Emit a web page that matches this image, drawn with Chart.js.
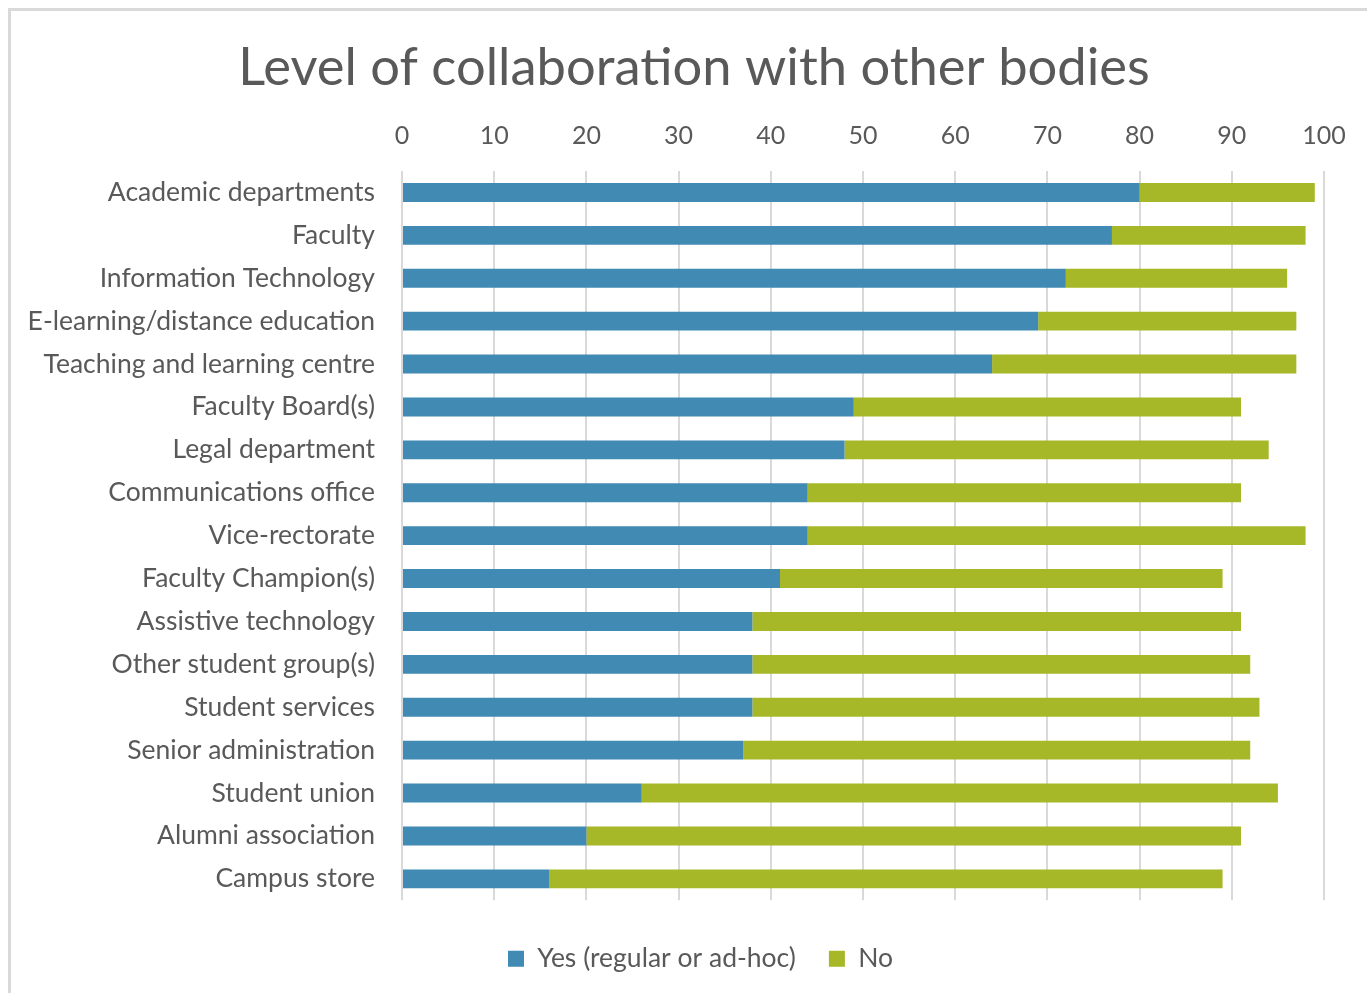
<!DOCTYPE html>
<html>
<head>
<meta charset="utf-8">
<script src="https://cdn.jsdelivr.net/npm/chart.js@4/dist/chart.umd.min.js"></script>
<style>
    html, body { margin: 0; padding: 0; background: #fff; overflow: hidden; }
    #frame {
        position: absolute; left: 8px; top: 8px; width: 1400px; height: 1000px;
        border-left: 3px solid #d9d9d9; border-top: 3px solid #d9d9d9;
    }
    #wrap { position: absolute; left: 0; top: 0; width: 1367px; height: 993px; }
</style>
</head>
<body>
<div id="frame"></div>
<div id="wrap"><canvas id="collabChart" width="1367" height="993"></canvas></div>
<script>
const categories = [
    'Academic departments', 'Faculty', 'Information Technology',
    'E-learning/distance education', 'Teaching and learning centre',
    'Faculty Board(s)', 'Legal department', 'Communications office',
    'Vice-rectorate', 'Faculty Champion(s)', 'Assistive technology',
    'Other student group(s)', 'Student services', 'Senior administration',
    'Student union', 'Alumni association', 'Campus store'
];
const yesValues = [80, 77, 72, 69, 64, 49, 48, 44, 44, 41, 38, 38, 38, 37, 26, 20, 16];
const noValues  = [19, 21, 24, 28, 33, 42, 46, 47, 54, 48, 53, 54, 55, 55, 69, 71, 73];
const xTicks = [0, 10, 20, 30, 40, 50, 60, 70, 80, 90, 100];

const textColor = '#595959';
const fontFamily = 'Lato, "Open Sans", sans-serif';

// the original centres title and legend a little right of the canvas middle
const nudgeBlocks = {
    id: 'nudgeBlocks',
    afterLayout(chart) {
        if (chart.titleBlock) chart.titleBlock.left += 44;
        if (chart.legend) chart.legend.left += 57;
    }
};

document.addEventListener('DOMContentLoaded', () => {
    const ctx = document.getElementById('collabChart').getContext('2d');

    new Chart(ctx, {
        type: 'bar',
        data: {
            labels: categories,
            datasets: [
                {
                    label: 'Yes (regular or ad-hoc)',
                    data: yesValues,
                    backgroundColor: '#418AB3',
                    barPercentage: 0.44,
                    categoryPercentage: 1
                },
                {
                    label: 'No',
                    data: noValues,
                    backgroundColor: '#A6B727',
                    barPercentage: 0.44,
                    categoryPercentage: 1
                }
            ]
        },
        options: {
            indexAxis: 'y',
            responsive: false,
            animation: false,
            layout: { padding: { top: 37, left: 20, right: 43, bottom: 11 } },
            scales: {
                x: {
                    position: 'top',
                    stacked: true,
                    min: 0,
                    max: 100,
                    afterBuildTicks: scale => {
                        scale.ticks = xTicks.map(v => ({ value: v }));
                    },
                    afterFit: scale => { scale.height = 61; },
                    grid: { color: '#d9d9d9', lineWidth: 2, drawTicks: false },
                    border: { display: false },
                    ticks: {
                        color: textColor,
                        font: { family: fontFamily, size: 25 },
                        padding: 20
                    }
                },
                y: {
                    stacked: true,
                    afterFit: scale => { scale.width = 382; },
                    grid: { display: false },
                    border: { display: false },
                    ticks: {
                        color: textColor,
                        font: { family: fontFamily, size: 26.5 },
                        padding: 19
                    }
                }
            },
            plugins: {
                title: {
                    display: true,
                    text: 'Level of collaboration with other bodies',
                    color: textColor,
                    font: { family: fontFamily, size: 52.5, weight: 'normal' },
                    padding: { top: 0, bottom: 10 }
                },
                legend: {
                    position: 'bottom',
                    title: { display: true, text: '', font: { size: 1 }, padding: { top: 11, bottom: 0 } },
                    labels: {
                        color: textColor,
                        font: { family: fontFamily, size: 26.5 },
                        boxWidth: 16,
                        boxHeight: 16,
                        padding: 33
                    }
                },
                tooltip: { enabled: false }
            }
        },
        plugins: [nudgeBlocks]
    });
});
</script>
</body>
</html>
